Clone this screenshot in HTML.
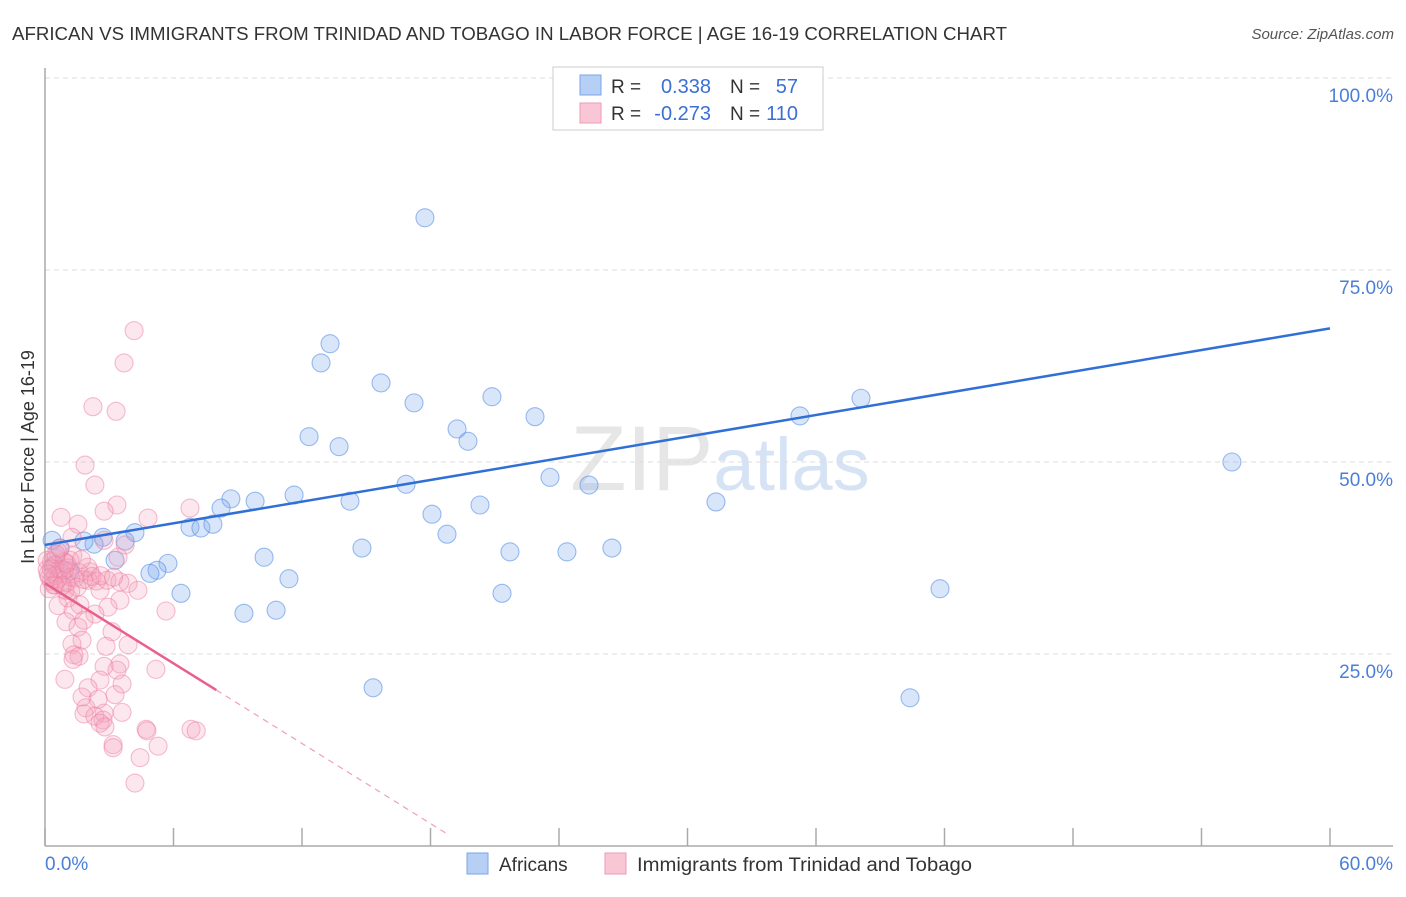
<!DOCTYPE html>
<html><head><meta charset="utf-8"><style>
body{margin:0;background:#fff;font-family:"Liberation Sans",sans-serif}
svg text{font-family:"Liberation Sans",sans-serif}
</style></head><body>
<svg id="chart" width="1406" height="892" xmlns="http://www.w3.org/2000/svg">
<text x="12" y="40" font-size="18" fill="#333" textLength="995" lengthAdjust="spacingAndGlyphs">AFRICAN VS IMMIGRANTS FROM TRINIDAD AND TOBAGO IN LABOR FORCE | AGE 16-19 CORRELATION CHART</text>
<text x="1394" y="39" font-size="15" fill="#555" text-anchor="end" font-style="italic">Source: ZipAtlas.com</text>
<text x="720" y="490" font-size="92" fill="#e6e6e6" text-anchor="middle" font-family="Liberation Serif">ZIP<tspan fill="#d5e3f5" font-family="Liberation Sans" font-size="74">atlas</tspan></text>
<g id="grid"></g>
<g id="pts"></g>
<g id="lines"></g>
<text transform="translate(34,457) rotate(-90)" font-size="18" fill="#333" text-anchor="middle">In Labor Force | Age 16-19</text>
<g>
<rect x="553" y="67" width="270" height="63" fill="#fff" stroke="#ccc"/>
<rect x="580" y="75" width="21" height="20" fill="#b5cff5" stroke="#7aa6e8"/>
<rect x="580" y="103" width="21" height="20" fill="#f9c6d6" stroke="#ee9ab5"/>
<text x="611" y="93" font-size="19" fill="#333">R = </text><text x="711" y="93" font-size="20" fill="#3b6fd4" text-anchor="end">0.338</text>
<text x="730" y="93" font-size="19" fill="#333">N = </text><text x="798" y="93" font-size="20" fill="#3b6fd4" text-anchor="end">57</text>
<text x="611" y="120" font-size="19" fill="#333">R = </text><text x="711" y="120" font-size="20" fill="#3b6fd4" text-anchor="end">-0.273</text>
<text x="730" y="120" font-size="19" fill="#333">N = </text><text x="798" y="120" font-size="20" fill="#3b6fd4" text-anchor="end">110</text>
</g>
<g>
<rect x="467" y="853" width="21" height="21" fill="#b5cff5" stroke="#7aa6e8"/>
<text x="499" y="871" font-size="19" fill="#333">Africans</text>
<rect x="605" y="853" width="21" height="21" fill="#f9c6d6" stroke="#ee9ab5"/>
<text x="637" y="871" font-size="19" fill="#333" textLength="335" lengthAdjust="spacingAndGlyphs">Immigrants from Trinidad and Tobago</text>
</g>
</svg>
<script>
const xTicks=[0,6,12,18,24,30,36,42,48,54,60];
const yTicks=[25,50,75,100];
const yTickLabels=["25.0%","50.0%","75.0%","100.0%"];
const xEndLabels=["0.0%","60.0%"];
const blueX=[17.74,13.31,12.89,15.69,17.23,20.87,22.88,35.25,38.10,12.33,13.73,19.24,19.75,55.42,23.58,25.40,16.86,11.63,14.24,8.68,9.81,8.22,6.77,7.28,7.84,18.07,20.31,18.77,31.33,14.80,21.71,24.37,26.47,10.23,5.74,5.23,4.90,11.39,6.35,21.34,41.79,9.29,10.79,15.32,40.39,4.20,3.74,3.27,2.71,2.29,1.82,0.33,0.70,1.17,0.47,25.45,34.09];
const blueY=[81.8,65.4,62.9,60.3,57.7,58.5,55.9,56.0,58.3,53.3,52.0,54.3,52.7,50.0,48.0,47.0,47.1,45.7,44.9,45.2,44.9,44.0,41.5,41.4,41.9,43.2,44.4,40.6,44.8,38.8,38.3,38.3,38.8,37.6,36.8,35.9,35.5,34.8,32.9,32.9,33.5,30.3,30.7,20.6,19.3,40.8,39.7,37.2,40.2,39.3,39.7,39.8,38.8,35.8,36.6,99.7,99.7];
const pinkX=[4.16,3.69,2.24,3.32,1.87,2.33,3.36,2.76,6.77,4.81,0.75,1.54,3.74,1.26,2.76,3.41,1.17,2.10,2.01,3.88,4.34,0.47,0.93,2.57,3.50,1.07,1.63,2.94,0.61,5.65,1.31,2.33,1.82,0.98,1.54,3.13,1.73,1.26,3.88,2.85,1.35,1.59,1.31,5.18,3.50,2.76,3.36,2.57,0.93,3.60,2.01,3.27,1.73,2.48,1.91,2.76,3.60,1.82,2.33,2.71,2.57,2.80,4.72,4.76,6.82,7.06,5.28,3.18,3.18,4.44,4.20,
0.1,0.2,0.3,0.3,0.4,0.5,0.5,0.6,0.7,0.8,0.9,1.0,1.1,1.2,1.3,1.4,0.2,0.6,1.6,1.8,2.0,2.2,0.4,0.9,1.5,0.1,0.7,1.2,2.4,2.6,0.3,1.0,1.7,0.5,0.8,2.9,3.5,3.2,0.15];
const pinkY=[67.1,62.9,57.2,56.6,49.6,47.0,44.4,43.6,44.0,42.7,42.8,41.9,39.2,40.2,39.8,37.6,37.2,35.7,34.6,34.2,33.3,34.0,33.3,33.3,32.0,32.3,31.4,31.1,31.3,30.6,30.7,30.2,29.4,29.2,28.5,27.9,26.8,26.3,26.2,26.0,24.9,24.7,24.3,23.0,23.7,23.4,22.9,21.6,21.7,21.1,20.6,19.7,19.4,19.1,18.0,17.3,17.4,17.2,16.9,16.4,16.0,15.5,15.2,15.0,15.2,15.0,13.0,13.2,12.8,11.5,8.2,
36,35,37,34.5,36.5,35.2,37.5,34.8,36,35.5,37,34.3,36.2,35,37.8,34.9,33.5,38.3,35.6,34.7,36.3,35.1,34,35.9,33.7,37.2,38.8,33.2,34.5,35.2,36.1,36.8,37.3,38.0,33.9,34.6,34.4,35.0,35.4];
const blueTrend=[0,39.2,60,67.4];
const pinkTrend=[0,34.2,8.0,20.3,18.8];
const NS="http://www.w3.org/2000/svg";
const X0=45,X1=1330,Y0=846,Ypx=7.68;
const sx=v=>X0+v/60*(X1-X0);
const sy=v=>Y0-v*Ypx;
function mk(tag,attrs,parent){const e=document.createElementNS(NS,tag);for(const k in attrs)e.setAttribute(k,attrs[k]);document.getElementById(parent).appendChild(e);return e;}
yTicks.forEach((t,i)=>{
 const g=mk('line',{x1:X0,x2:1393,y1:sy(t),y2:sy(t),stroke:'#ddd','stroke-dasharray':'5,4'},'grid');
 
 
 const l=mk('text',{x:1393,y:sy(t)+24,'font-size':19,fill:'#4a7fd8','text-anchor':'end'},'grid');
 l.textContent=yTickLabels[i];
 
 
});
const ax=mk('line',{x1:X0,x2:X0,y1:68,y2:Y0,stroke:'#aaa','stroke-width':1.5},'grid');


const bx=mk('line',{x1:X0,x2:1393,y1:Y0,y2:Y0,stroke:'#aaa','stroke-width':1.5},'grid');


xTicks.forEach(t=>{
 const k=mk('line',{x1:sx(t),x2:sx(t),y1:828,y2:Y0,stroke:'#aaa','stroke-width':1.5},'grid');
 
 
});
const xl0=mk('text',{x:45,y:870,'font-size':19,fill:'#4a7fd8'},'grid');xl0.textContent=xEndLabels[0];


const xl1=mk('text',{x:1393,y:870,'font-size':19,fill:'#4a7fd8','text-anchor':'end'},'grid');xl1.textContent=xEndLabels[1];


blueX.forEach((v,i)=>{
 const c=mk('circle',{cx:sx(v),cy:sy(blueY[i]),r:9,fill:'rgba(130,172,238,0.3)',stroke:'rgba(90,145,230,0.6)','stroke-width':1.1},'pts');
 
 
});
pinkX.forEach((v,i)=>{
 const c=mk('circle',{cx:sx(v),cy:sy(pinkY[i]),r:9,fill:'rgba(245,160,188,0.25)',stroke:'rgba(238,125,160,0.5)','stroke-width':1.1},'pts');
 
 
});
const bl=mk('line',{x1:sx(blueTrend[0]),y1:sy(blueTrend[1]),x2:sx(blueTrend[2]),y2:sy(blueTrend[3]),stroke:'#2f6fd6','stroke-width':2.5},'lines');


const slope=(pinkTrend[3]-pinkTrend[1])/(pinkTrend[2]-pinkTrend[0]);
const pl=mk('line',{x1:sx(pinkTrend[0]),y1:sy(pinkTrend[1]),x2:sx(pinkTrend[2]),y2:sy(pinkTrend[3]),stroke:'#e8608c','stroke-width':2.5},'lines');


const pd=mk('line',{x1:sx(pinkTrend[2]),y1:sy(pinkTrend[3]),x2:sx(pinkTrend[4]),y2:sy(pinkTrend[1]+slope*pinkTrend[4]),stroke:'#eea0b8','stroke-width':1.2,'stroke-dasharray':'6,5'},'lines');


</script>
</body></html>
